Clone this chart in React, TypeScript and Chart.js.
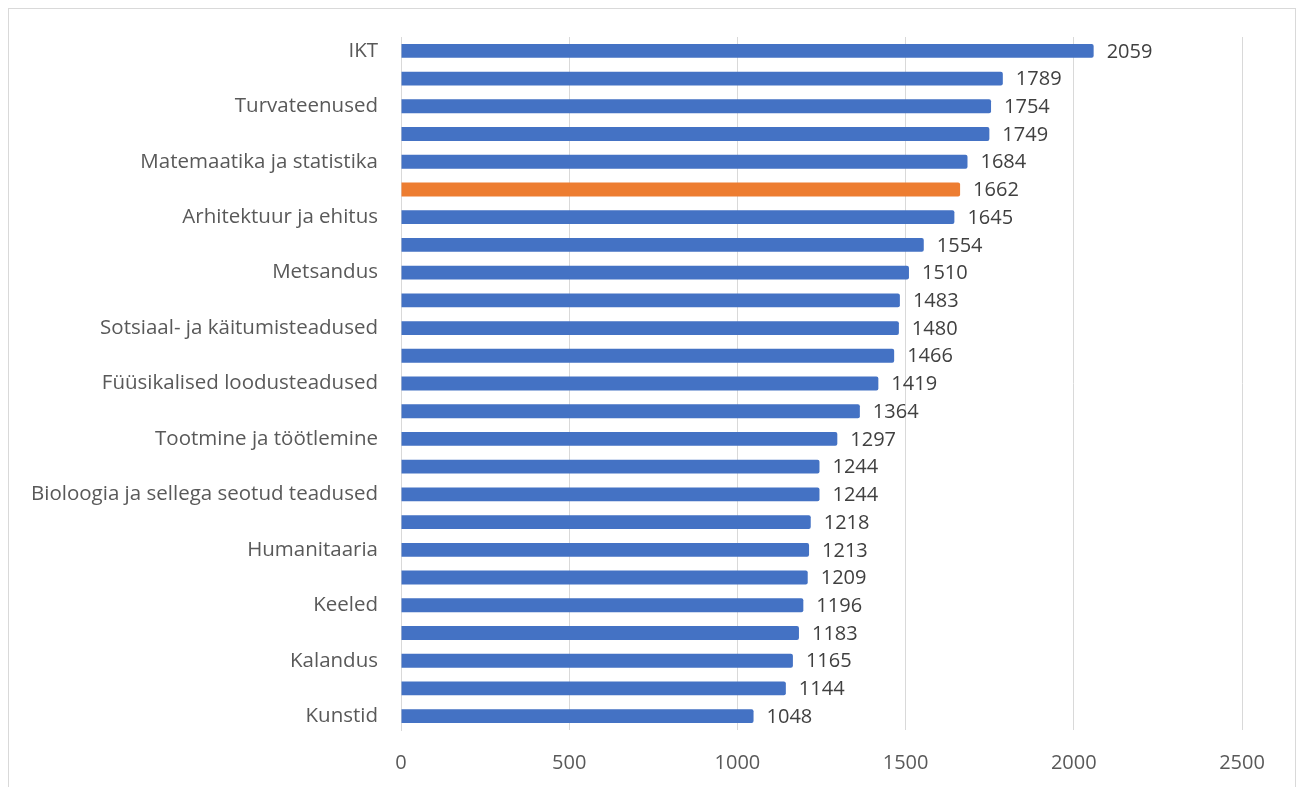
import React, { useEffect, useRef } from "react";
import { Chart, registerables } from "chart.js";

Chart.register(...registerables);

// Õppevaldkonnad (ülevalt alla) ja nende väärtused
const categories: string[] = [
  "IKT",
  "Tehnika",
  "Turvateenused",
  "Õigus",
  "Matemaatika ja statistika",
  "Keskmine",
  "Arhitektuur ja ehitus",
  "Ärindus ja haldus",
  "Metsandus",
  "Tervis",
  "Sotsiaal- ja käitumisteadused",
  "Transporditeenused",
  "Füüsikalised loodusteadused",
  "Ajakirjandus ja infolevi",
  "Tootmine ja töötlemine",
  "Keskkond",
  "Bioloogia ja sellega seotud teadused",
  "Veterinaaria",
  "Humanitaaria",
  "Põllumajandus",
  "Keeled",
  "Isikuteenindus",
  "Kalandus",
  "Haridus",
  "Kunstid",
];

const values: number[] = [
  2059, 1789, 1754, 1749, 1684, 1662, 1645, 1554, 1510, 1483, 1480, 1466, 1419,
  1364, 1297, 1244, 1244, 1218, 1213, 1209, 1196, 1183, 1165, 1144, 1048,
];

// Esile tõstetud rida
const highlightIndex = 5;

const xTicks: number[] = [0, 500, 1000, 1500, 2000, 2500];

const BLUE = "#4472C4";
const ORANGE = "#ED7D31";
const FONT = "'Open Sans', sans-serif";

const valueLabels = {
  id: "valueLabels",
  afterDatasetsDraw(chart: any) {
    const { ctx } = chart;
    const meta = chart.getDatasetMeta(0);
    ctx.save();
    ctx.fillStyle = "#404040";
    ctx.font = `20px ${FONT}`;
    ctx.textAlign = "left";
    ctx.textBaseline = "middle";
    meta.data.forEach((bar: any, i: number) => {
      ctx.fillText(String(values[i]), bar.x + 13, bar.y + 1);
    });
    ctx.restore();
  },
};

export default function App() {
  const ref = useRef<HTMLCanvasElement | null>(null);

  useEffect(() => {
    if (!ref.current) return;
    document.body.style.overflow = "hidden";
    const chart = new Chart(ref.current, {
      type: "bar",
      data: {
        labels: categories,
        datasets: [
          {
            data: values,
            backgroundColor: values.map((_, i) => (i === highlightIndex ? ORANGE : BLUE)),
            borderRadius: 2,
            borderSkipped: "start",
            barPercentage: 0.5,
            categoryPercentage: 1,
          },
        ],
      },
      options: {
        indexAxis: "y",
        animation: false,
        responsive: false,
        maintainAspectRatio: false,
        layout: { padding: { top: 28, right: 53, left: 0, bottom: 0 } },
        plugins: {
          legend: { display: false },
          tooltip: { enabled: false },
        },
        scales: {
          x: {
            min: 0,
            max: 2500,
            afterBuildTicks: (scale: any) => {
              scale.ticks = xTicks.map((v) => ({ value: v }));
            },
            afterFit: (scale: any) => {
              scale.height = 57;
              scale.paddingLeft = 0;
              scale.paddingRight = 0;
            },
            grid: { display: true, color: "#D9D9D9", lineWidth: 1, drawTicks: false },
            border: { display: false },
            ticks: {
              padding: 21,
              color: "#595959",
              font: { family: FONT, size: 20 },
              callback: (v: any) => String(v),
            },
          },
          y: {
            afterFit: (scale: any) => {
              scale.width = 392;
              scale.paddingTop = 0;
              scale.paddingBottom = 0;
            },
            grid: { display: false, drawTicks: false },
            border: { display: true, color: "#D9D9D9", width: 1 },
            ticks: {
              autoSkip: false,
              padding: 23,
              color: "#595959",
              font: { family: FONT, size: 20.5 },
              callback: (_v: any, i: number) => (i % 2 === 0 ? categories[i] : ""),
            },
          },
        },
      },
      plugins: [valueLabels],
    });
    return () => chart.destroy();
  }, []);

  return (
    <div
      style={{
        width: 1286,
        height: 778,
        borderTop: "1px solid #D9D9D9",
        borderLeft: "1px solid #D9D9D9",
        borderRight: "1px solid #D9D9D9",
        background: "#fff",
      }}
    >
      <canvas ref={ref} width={1286} height={778} style={{ display: "block" }} />
    </div>
  );
}
